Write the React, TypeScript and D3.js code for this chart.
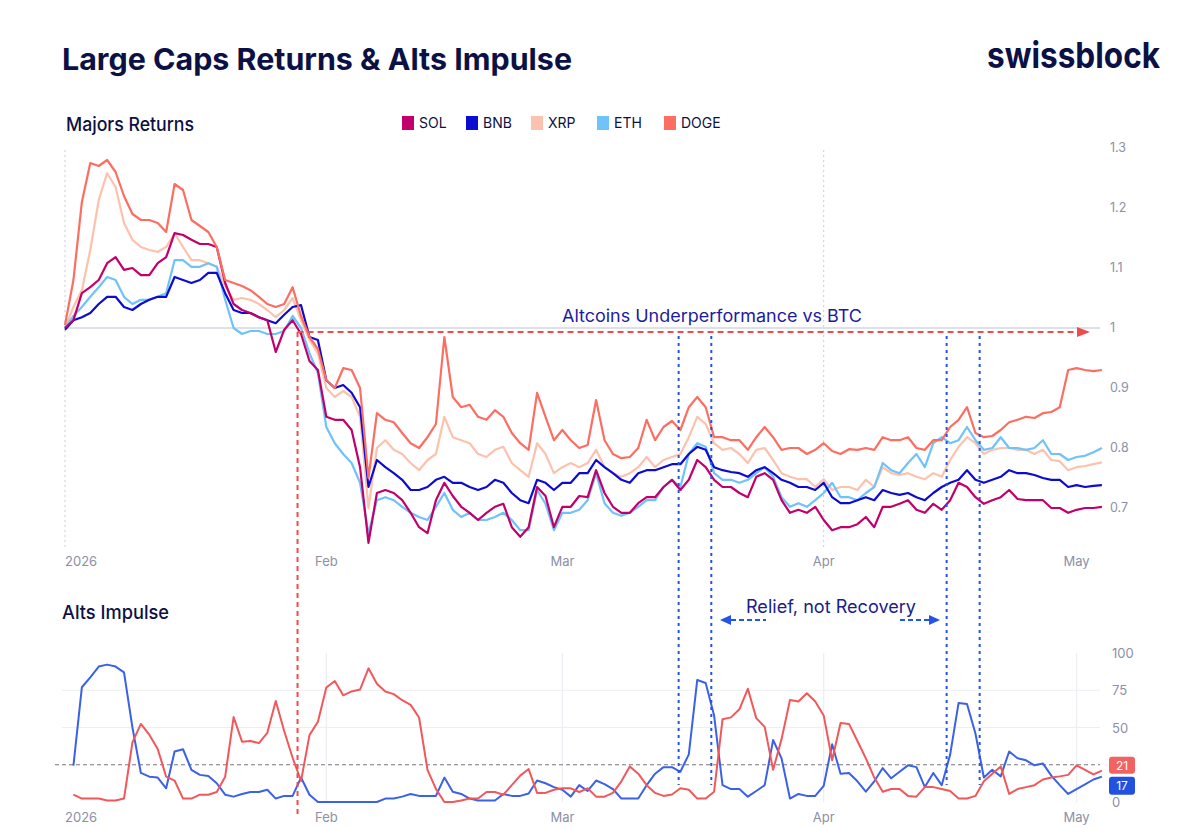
import * as d3 from "d3";

// daily closes, Jan 1 2026 onward (returns vs BTC, 1 = start)
const solReturns = [
  1.0, 1.013, 1.058, 1.068, 1.08, 1.108, 1.118, 1.097, 1.1, 1.088,
  1.088, 1.108, 1.118, 1.158, 1.155, 1.147, 1.14, 1.14, 1.135, 1.075,
  1.04, 1.03, 1.025, 1.018, 1.013, 0.96, 0.997, 1.013, 0.99, 0.945,
  0.93, 0.852, 0.847, 0.847, 0.83, 0.768, 0.642, 0.725, 0.73, 0.725,
  0.713, 0.692, 0.668, 0.658, 0.713, 0.742, 0.72, 0.702, 0.692, 0.68,
  0.692, 0.702, 0.707, 0.668, 0.652, 0.668, 0.735, 0.72, 0.668, 0.702,
  0.702, 0.72, 0.718, 0.763, 0.725, 0.702, 0.692, 0.692, 0.708, 0.718,
  0.718, 0.735, 0.747, 0.73, 0.747, 0.78, 0.768, 0.747, 0.735, 0.735,
  0.725, 0.718, 0.752, 0.758, 0.747, 0.713, 0.692, 0.697, 0.692, 0.702,
  0.68, 0.663, 0.668, 0.668, 0.673, 0.685, 0.668, 0.702, 0.702, 0.707,
  0.713, 0.697, 0.692, 0.707, 0.697, 0.713, 0.742, 0.735, 0.718, 0.707,
  0.713, 0.718, 0.73, 0.715, 0.713, 0.713, 0.713, 0.7, 0.7, 0.692,
  0.697, 0.7, 0.7, 0.702,
];
const bnbReturns = [
  0.997, 1.013, 1.018, 1.025, 1.04, 1.052, 1.052, 1.035, 1.03, 1.04,
  1.047, 1.052, 1.052, 1.085, 1.08, 1.075, 1.08, 1.092, 1.092, 1.058,
  1.03, 1.025, 1.025, 1.018, 1.013, 1.008, 1.022, 1.035, 1.038, 0.985,
  0.98, 0.913, 0.9, 0.905, 0.892, 0.868, 0.735, 0.78, 0.768, 0.758,
  0.747, 0.73, 0.73, 0.735, 0.747, 0.752, 0.742, 0.742, 0.735, 0.73,
  0.735, 0.747, 0.742, 0.725, 0.713, 0.708, 0.747, 0.742, 0.73, 0.742,
  0.742, 0.758, 0.758, 0.78, 0.768, 0.758, 0.747, 0.742, 0.758, 0.763,
  0.763, 0.768, 0.773, 0.773, 0.79, 0.802, 0.797, 0.768, 0.763, 0.76,
  0.758, 0.752, 0.763, 0.768, 0.758, 0.747, 0.742, 0.735, 0.735, 0.73,
  0.742, 0.718, 0.708, 0.708, 0.713, 0.718, 0.713, 0.73, 0.725, 0.722,
  0.725, 0.718, 0.713, 0.725, 0.735, 0.742, 0.747, 0.763, 0.747, 0.742,
  0.747, 0.752, 0.763, 0.758, 0.758, 0.755, 0.75, 0.747, 0.747, 0.735,
  0.738, 0.735, 0.737, 0.738,
];
const xrpReturns = [
  1.0, 1.035, 1.063, 1.13, 1.213, 1.258, 1.235, 1.175, 1.147, 1.135,
  1.13, 1.127, 1.135, 1.158, 1.135, 1.113, 1.113, 1.108, 1.102, 1.07,
  1.047, 1.05, 1.047, 1.04, 1.03, 1.018, 1.03, 1.05, 1.013, 0.98,
  0.958, 0.9, 0.885, 0.895, 0.885, 0.852, 0.7, 0.8, 0.813, 0.797,
  0.79, 0.775, 0.763, 0.78, 0.79, 0.852, 0.818, 0.813, 0.808, 0.79,
  0.785, 0.797, 0.802, 0.775, 0.763, 0.752, 0.808, 0.79, 0.758, 0.768,
  0.775, 0.768, 0.775, 0.797, 0.768, 0.758, 0.752, 0.758, 0.768, 0.785,
  0.768, 0.78, 0.785, 0.79, 0.818, 0.852, 0.84, 0.808, 0.797, 0.8,
  0.79, 0.775, 0.797, 0.8, 0.78, 0.758, 0.752, 0.748, 0.748, 0.735,
  0.748, 0.73, 0.735, 0.735, 0.73, 0.747, 0.735, 0.768, 0.758, 0.755,
  0.758, 0.752, 0.748, 0.758, 0.752, 0.78, 0.802, 0.818, 0.808, 0.79,
  0.797, 0.8, 0.8, 0.797, 0.797, 0.79, 0.797, 0.78, 0.778, 0.763,
  0.768, 0.77, 0.773, 0.776,
];
const ethReturns = [
  1.0, 1.02, 1.035, 1.052, 1.068, 1.085, 1.08, 1.052, 1.04, 1.047,
  1.047, 1.052, 1.058, 1.113, 1.113, 1.102, 1.102, 1.108, 1.102, 1.047,
  1.0, 0.99, 0.995, 0.995, 0.99, 0.99, 0.995, 1.02, 1.0, 0.958,
  0.925, 0.835, 0.808, 0.79, 0.775, 0.742, 0.658, 0.713, 0.718, 0.713,
  0.702, 0.692, 0.685, 0.68, 0.702, 0.725, 0.697, 0.685, 0.692, 0.68,
  0.68, 0.685, 0.692, 0.68, 0.663, 0.663, 0.73, 0.707, 0.663, 0.692,
  0.692, 0.697, 0.713, 0.758, 0.708, 0.692, 0.687, 0.692, 0.702, 0.713,
  0.713, 0.735, 0.747, 0.735, 0.79, 0.808, 0.802, 0.758, 0.747, 0.747,
  0.742, 0.747, 0.758, 0.768, 0.752, 0.718, 0.702, 0.708, 0.702, 0.713,
  0.725, 0.742, 0.718, 0.718, 0.713, 0.725, 0.735, 0.775, 0.763, 0.758,
  0.775, 0.79, 0.768, 0.808, 0.818, 0.808, 0.813, 0.835, 0.813, 0.797,
  0.8, 0.818, 0.8, 0.8, 0.797, 0.8, 0.813, 0.79, 0.79, 0.78,
  0.785, 0.787, 0.793, 0.8,
];
const dogeReturns = [
  1.005, 1.08, 1.21, 1.275, 1.27, 1.28, 1.26, 1.22, 1.19, 1.18,
  1.18, 1.175, 1.16, 1.24, 1.23, 1.18, 1.17, 1.16, 1.135, 1.08,
  1.075, 1.07, 1.063, 1.052, 1.04, 1.035, 1.04, 1.068, 1.02, 0.985,
  0.965, 0.913, 0.9, 0.933, 0.93, 0.9, 0.75, 0.858, 0.847, 0.843,
  0.825, 0.808, 0.8, 0.818, 0.84, 0.985, 0.885, 0.868, 0.872, 0.852,
  0.847, 0.863, 0.852, 0.825, 0.808, 0.797, 0.892, 0.852, 0.813, 0.83,
  0.813, 0.8, 0.805, 0.88, 0.813, 0.79, 0.783, 0.785, 0.8, 0.847,
  0.813, 0.835, 0.845, 0.83, 0.868, 0.885, 0.868, 0.818, 0.818, 0.813,
  0.813, 0.797, 0.818, 0.835, 0.818, 0.797, 0.8, 0.8, 0.79, 0.797,
  0.808, 0.795, 0.79, 0.798, 0.797, 0.8, 0.797, 0.818, 0.813, 0.813,
  0.818, 0.8, 0.797, 0.813, 0.813, 0.835, 0.847, 0.868, 0.825, 0.818,
  0.82, 0.83, 0.843, 0.847, 0.852, 0.85, 0.858, 0.86, 0.868, 0.93,
  0.933, 0.93, 0.928, 0.93,
];

// alts impulse, daily from Jan 2 2026
const impulseBlue = [
  24.4, 77, 83.7, 90.9, 92.2, 90.9, 87, 50, 19.5, 17,
  16.4, 9.2, 33.9, 35.4, 21.6, 18.2, 17.4, 12.6, 4.9, 3.6,
  5.4, 6.7, 6.7, 8.2, 2.3, 4.1, 4.1, 16.4, 4.9, 0,
  0, 0, 0, 0, 0, 0, 0, 2.3, 2.3, 3.6,
  5.4, 4.1, 4.1, 4.1, 16.4, 6.9, 5.4, 2.3, 1, 1,
  1, 5.4, 4.1, 4.1, 5.7, 14.4, 12.6, 10, 8.2, 3.6,
  11.3, 7.4, 14.4, 12, 8.7, 2.3, 2.3, 2.3, 11.3, 19,
  23.4, 23.4, 20.3, 32, 81.9, 79.9, 58, 11.3, 8.7, 8.7,
  3.6, 7.4, 11.3, 41.6, 29.3, 2.3, 5.4, 4.1, 4.1, 10.8,
  38.8, 19, 19.5, 13.9, 6.9, 13.9, 22.8, 15.9, 20.3, 24.6,
  23.4, 10, 19.5, 11.3, 31.8, 66.5, 65.8, 46, 16.4, 21.6,
  17.2, 33.9, 29.3, 28, 24.6, 25.9, 17.7, 11.3, 5.4, 8.7,
  11.8, 15.1, 17,
];
const impulseRed = [
  4.9, 2.3, 2.3, 2.3, 1, 1, 2.3, 40, 52.4, 45.2,
  35.6, 17, 14.4, 2.3, 2.3, 4.9, 4.9, 6.7, 17, 57,
  40.5, 41, 39.5, 46.4, 67.8, 47.7, 29.7, 14.1, 44.9, 53.9,
  76.8, 81.2, 71.6, 74.2, 75.5, 89.7, 79.4, 74.2, 72.4, 68.3,
  65.2, 56.7, 21.6, 8.8, 0, 0, 1, 2.3, 2.3, 6.7,
  6.7, 4.9, 11.3, 17.7, 22.1, 6.1, 6.1, 8.2, 9.2, 9.2,
  6.7, 9.2, 3.6, 3.6, 6.1, 13.9, 23.9, 19, 11.3, 6.1,
  4.1, 5, 9.2, 8.2, 2.3, 2.3, 6.9, 55.5, 56.8, 62.2,
  76, 56.3, 50.4, 21.6, 42.2, 68.4, 67.4, 73, 67.4, 58.1,
  28, 53, 52.4, 40.9, 29.3, 16.4, 6.9, 8.7, 8.7, 4.1,
  3.6, 10, 10, 8.7, 7.4, 2.3, 2.3, 4.1, 13.9, 19,
  23.9, 5.4, 8.7, 10, 11.3, 15.1, 16.4, 17.2, 18.2, 24.6,
  21.6, 18.5, 21,
];

const topTicks = [0.7, 0.8, 0.9, 1, 1.1, 1.2, 1.3];
// 25 sits under the last-value badges, so it is not labelled
const bottomTicks = [0, 50, 75, 100];
const monthTicks = ["2026-01-01", "2026-02-01", "2026-03-01", "2026-04-01", "2026-05-01"];
const monthLabels = ["2026", "Feb", "Mar", "Apr", "May"];
const reliefMarks = ["2026-03-14T19:00Z", "2026-03-18T16:00Z", "2026-04-15T14:00Z", "2026-04-19T12:00Z"];
const breakdownMark = "2026-01-28T14:00Z";

const series = [
  { name: "XRP", color: "#fcc2ad", values: xrpReturns },
  { name: "ETH", color: "#6fc2fa", values: ethReturns },
  { name: "BNB", color: "#0c0cd0", values: bnbReturns },
  { name: "SOL", color: "#c1006b", values: solReturns },
  { name: "DOGE", color: "#fb6e61", values: dogeReturns },
];
const legendOrder = ["SOL", "BNB", "XRP", "ETH", "DOGE"];

const NAVY = "#0c1145";
const TICK = "#8b90a6";
const FONT = "Inter, 'Noto Sans', sans-serif";

const day = (n: number) => new Date(Date.UTC(2026, 0, 1 + n));

export default function App() {
  const x = d3
    .scaleUtc()
    .domain([new Date("2026-01-01"), new Date("2026-05-01")])
    .range([65, 65 + 120 * 8.43]);
  const yTop = d3.scaleLinear().domain([0.7, 1.3]).range([508, 148]);
  const yBot = d3.scaleLinear().domain([0, 100]).range([802, 653]);

  const topLine = d3
    .line<number>()
    .x((_, i) => x(day(i)))
    .y((v) => yTop(v));
  const botLine = d3
    .line<number>()
    .x((_, i) => x(day(i + 1)))
    .y((v) => yBot(v));

  const redX = x(new Date(breakdownMark));
  const lastRed = impulseRed[impulseRed.length - 1];
  const lastBlue = impulseBlue[impulseBlue.length - 1];

  return (
    <svg
      width={1200}
      height={828}
      style={{ position: "absolute", left: 0, top: 0, background: "#fff" }}
      fontFamily={FONT}
    >
      <rect width={1200} height={828} fill="#fff" />
      <text x={62} y={70} fontSize={30} fontWeight={700} fill={NAVY} textLength={510} lengthAdjust="spacingAndGlyphs">
        Large Caps Returns &amp; Alts Impulse
      </text>
      <text x={987} y={68} fontSize={36} fontWeight={700} fill={NAVY} textLength={173} lengthAdjust="spacingAndGlyphs">
        swissblock
      </text>

      {/* Majors Returns panel */}
      <text x={66} y={131} fontSize={19} fontWeight={500} fill={NAVY} textLength={128} lengthAdjust="spacingAndGlyphs">
        Majors Returns
      </text>
      {legendOrder.map((name, i) => {
        const s = series.find((d) => d.name === name)!;
        const lx = [402, 466, 531, 597, 664][i];
        return (
          <g key={name}>
            <rect x={lx} y={116} width={12} height={14} fill={s.color} />
            <text x={lx + 17} y={128} fontSize={14} fill={NAVY}>
              {name}
            </text>
          </g>
        );
      })}

      {[monthTicks[0], monthTicks[3]].map((t) => (
        <line key={t} x1={x(new Date(t))} x2={x(new Date(t))} y1={150} y2={548} stroke="#c9cdd8" strokeDasharray="2,3" />
      ))}
      <line x1={65} x2={1100} y1={yTop(1)} y2={yTop(1)} stroke="#d3d6e0" strokeWidth={1.5} />

      {series.map((s) => (
        <path key={s.name} d={topLine(s.values)!} fill="none" stroke={s.color} strokeWidth={2.2} strokeLinejoin="round" />
      ))}

      {topTicks.map((t) => (
        <text key={t} x={1110} y={yTop(t) + 4} fontSize={12.5} fill={TICK}>
          {d3.format("~g")(t)}
        </text>
      ))}
      {monthTicks.map((t, i) => (
        <text key={t} x={x(new Date(t))} y={566} fontSize={13} fill={TICK} textAnchor={i === 0 ? "start" : "middle"}>
          {monthLabels[i]}
        </text>
      ))}

      {/* Alts Impulse panel */}
      <text x={62} y={619} fontSize={19} fontWeight={500} fill={NAVY} textLength={107} lengthAdjust="spacingAndGlyphs">
        Alts Impulse
      </text>
      {monthTicks.slice(1).map((t) => (
        <line key={t} x1={x(new Date(t))} x2={x(new Date(t))} y1={653} y2={802} stroke="#eceef3" strokeWidth={1.2} />
      ))}
      {[50, 75].map((t) => (
        <line key={t} x1={62} x2={1100} y1={yBot(t)} y2={yBot(t)} stroke="#eceef3" strokeWidth={1.2} />
      ))}
      <line x1={55} x2={1100} y1={yBot(25)} y2={yBot(25)} stroke="#7a7a80" strokeWidth={1.2} strokeDasharray="4,3" />

      <path d={botLine(impulseBlue)!} fill="none" stroke="#3a61e6" strokeWidth={2} strokeLinejoin="round" />
      <path d={botLine(impulseRed)!} fill="none" stroke="#f0585b" strokeWidth={2} strokeLinejoin="round" />

      {bottomTicks.map((t) => (
        <text key={t} x={1112} y={yBot(t) + 5} fontSize={13} fill={TICK}>
          {t}
        </text>
      ))}
      {monthTicks.map((t, i) => (
        <text key={t} x={x(new Date(t))} y={822} fontSize={13} fill={TICK} textAnchor={i === 0 ? "start" : "middle"}>
          {monthLabels[i]}
        </text>
      ))}

      {/* last value badges */}
      <rect x={1109} y={yBot(lastRed) - 14} width={26} height={17} rx={3} fill="#f26262" />
      <text x={1122} y={yBot(lastRed) - 1} fontSize={12} fill="#fff" textAnchor="middle">
        {lastRed}
      </text>
      <rect x={1109} y={yBot(lastBlue)} width={26} height={18} rx={3} fill="#2251e0" />
      <text x={1122} y={yBot(lastBlue) + 13.5} fontSize={12} fill="#fff" textAnchor="middle">
        {lastBlue}
      </text>

      {/* annotations */}
      <line x1={redX} x2={redX} y1={332} y2={815} stroke="#f04b4b" strokeWidth={2} strokeDasharray="5,4" />
      <line x1={redX} x2={1078} y1={332} y2={332} stroke="#f04b4b" strokeWidth={2} strokeDasharray="6,4" />
      <path d="M1077,327 L1090,332 L1077,337 Z" fill="#f04b4b" />
      <text x={712} y={322} fontSize={17} fill="#1b1b9e" textAnchor="middle" textLength={300} lengthAdjust="spacingAndGlyphs">
        Altcoins Underperformance vs BTC
      </text>

      {reliefMarks.map((t) => (
        <line key={t} x1={x(new Date(t))} x2={x(new Date(t))} y1={336} y2={785} stroke="#2453e6" strokeWidth={2} strokeDasharray="3,4" />
      ))}
      <text x={831} y={613} fontSize={18} fill="#1c1c8c" textAnchor="middle" textLength={170} lengthAdjust="spacingAndGlyphs">
        Relief, not Recovery
      </text>
      <path d="M720,620 L731,615 L731,625 Z" fill="#2453e6" />
      <line x1={731} x2={766} y1={620} y2={620} stroke="#2453e6" strokeWidth={2} strokeDasharray="5,3" />
      <line x1={900} x2={930} y1={620} y2={620} stroke="#2453e6" strokeWidth={2} strokeDasharray="5,3" />
      <path d="M940,620 L929,615 L929,625 Z" fill="#2453e6" />
    </svg>
  );
}
